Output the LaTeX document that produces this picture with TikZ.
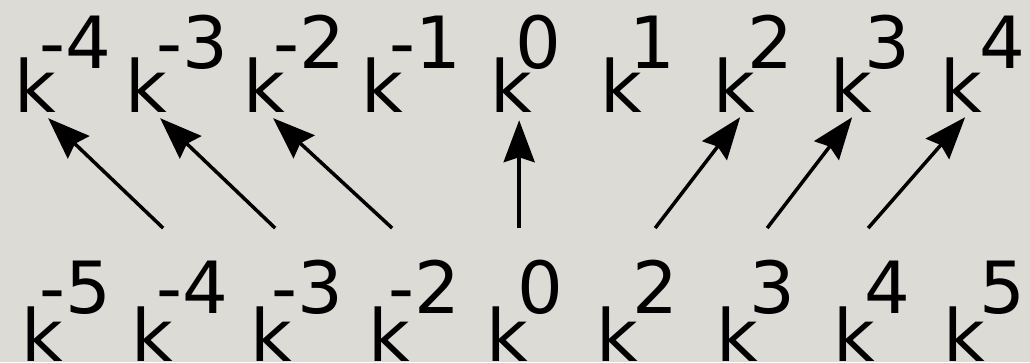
\documentclass[tikz,border=0pt]{standalone}
\usepackage{fontspec}
\usepackage{tikz}
\usetikzlibrary{arrows.meta}
\setmainfont{DejaVu Sans}
\definecolor{paper}{RGB}{221,219,213}

\tikzset{
    kterm/.style={anchor=base west,inner sep=0pt,font=\fontsize{72}{80}\selectfont},
    expo/.style={anchor=base west,inner sep=0pt,font=\fontsize{72}{80}\selectfont},
    arr/.style={line width=3.5pt,-{Stealth[length=42pt,width=31pt,inset=5pt]}}
}

\begin{document}
\begin{tikzpicture}[x=1pt,y=-1pt]
    \fill[paper] (0,0) rectangle (1030,362);
    \useasboundingbox (0,0) rectangle (1030,362);

    % top row
    \foreach \kx/\ex/\lbl [count=\i] in {14.5/39.5/-4,125.5/156.5/-3,243.5/273.5/-2,361.5/389.5/-1,490.5/515.3/0,600.5/629/1,713.5/747.7/2,830.5/864.5/3,940.5/979.5/4} {
        \node[kterm] (t\i) at (\kx,112) {k};
        \node[expo] (te\i) at (\ex,68) {\lbl};
    }
    % bottom row
    \foreach \kx/\ex/\lbl [count=\i] in {21.5/39.5/-5,131.5/156.5/-4,250.5/271.5/-3,368.5/388.5/-2,486.5/517.3/0,596.5/632.7/2,716.5/749.5/3,833.5/864.5/4,943.5/979.4/5} {
        \node[kterm] (b\i) at (\kx,361) {k};
        \node[expo] (be\i) at (\ex,313) {\lbl};
    }

    \foreach \b/\t/\fx/\tx/\ty in {2/1/10.6/12.6/-6,3/2/3.6/13.6/-6,4/3/2.6/8.6/-6,5/5/11.6/7.6/-8,6/7/37.6/5.6/-5,7/8/29.6/0.6/-5,8/9/13.6/3.6/-5} {
        \draw[arr] ([xshift=\fx pt,yshift=78pt]b\b.north) -- ([xshift=\tx pt,yshift=\ty pt]t\t.south);
    }
\end{tikzpicture}
\end{document}
